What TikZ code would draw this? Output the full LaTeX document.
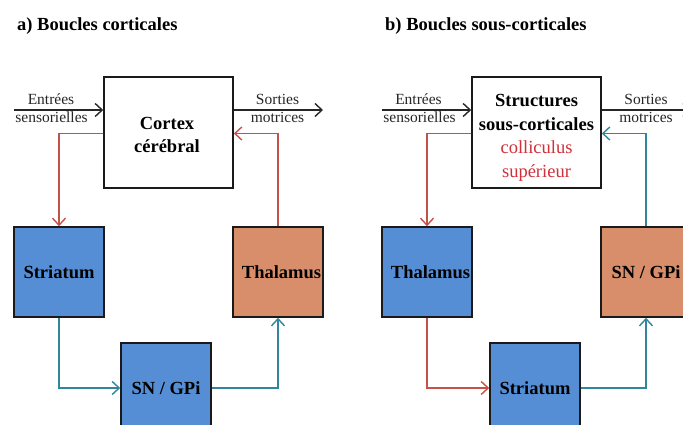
\documentclass[tikz,border=0pt]{standalone}
\usepackage{fontspec}
\setmainfont{Liberation Serif}
\usetikzlibrary{arrows.meta}
\definecolor{boxblue}{RGB}{85,142,213}
\definecolor{boxorange}{RGB}{216,142,106}
\definecolor{linered}{RGB}{196,82,72}
\definecolor{lineteal}{RGB}{49,133,156}
\definecolor{textred}{RGB}{208,48,58}
\definecolor{boxline}{RGB}{26,26,26}
\begin{document}
\begin{tikzpicture}[x=1pt,y=-1pt,
  blk/.style={draw=boxline, line width=1.6pt, inner sep=0pt, align=center,
    font=\bfseries\fontsize{18.5}{22.5}\selectfont},
  small/.style={minimum width=90pt, minimum height=90pt},
  big/.style={minimum width=129pt, minimum height=111pt, fill=white},
  boxtext/.style={inner sep=0pt, align=center, font=\bfseries\fontsize{18.5}{23.5}\selectfont},
  bluebox/.style={blk, small, fill=boxblue},
  orangebox/.style={blk, small, fill=boxorange},
  lbl/.style={inner sep=0pt, anchor=base, font=\fontsize{15.5}{18}\selectfont, text=black!85},
  ttl/.style={inner sep=0pt, anchor=base west, font=\bfseries\fontsize{18.5}{22}\selectfont},
  arr/.style={-{Straight Barb[length=7pt,width=13pt,line width=1.4pt]}},
  blackline/.style={line width=1.5pt, draw=black!85, arr},
  redline/.style={line width=1.5pt, draw=linered, arr},
  tealline/.style={line width=1.5pt, draw=lineteal, arr}
]
\useasboundingbox (0,0) rectangle (683,425);
\clip (0,0) rectangle (683,425);

% ---------- Panel a ----------
\node[ttl] (titleA) at (17,30.5) {a) Boucles corticales};
\node[blk, big] (cortexA) at (168.5,132.5) {};
\node[boxtext] (cortexAtxt) at (167,135) {Cortex\\cérébral};
\node[bluebox] (striA) at (59,272) {Striatum};
\node[orangebox] (thalA) at (278,272) {\hspace*{7pt}Thalamus};
\node[bluebox] (sngA) at (166,388) {SN / GPi};

\coordinate (inA) at (14,110);
\coordinate (outA) at (323,110);
\draw[blackline] (inA) -- (cortexA.west |- inA);
\draw[blackline] (cortexA.east |- outA) -- (outA);
\node[lbl] (entA) at (51,105) {Entrées};
\node[lbl] (senA) at (51.5,122.5) {sensorielles};
\node[lbl] (sorA) at (277.5,105) {Sorties};
\node[lbl] (motA) at (277.5,122.5) {motrices};

\draw[redline] ([yshift=-1pt]cortexA.west) -| (striA.north);
\draw[redline] (thalA.north) |- ([yshift=-1pt]cortexA.east);
\draw[tealline] (striA.south) |- (sngA.west);
\draw[tealline] (sngA.east) -| (thalA.south);

% ---------- Panel b ----------
\node[ttl] (titleB) at (385,30.5) {b) Boucles sous-corticales};
\node[blk, big] (structB) at (536.5,132.5) {};
\node[boxtext] (structBtxt) at (536.5,138) {Structures\\sous-corticales\\
  {\mdseries\color{textred}colliculus}\\{\mdseries\color{textred}supérieur}};
\node[bluebox] (thalB) at (427,272) {\hspace*{7pt}Thalamus};
\node[orangebox] (sngB) at (646,272) {SN / GPi};
\node[bluebox] (striB) at (535,388) {Striatum};

\coordinate (inB) at (382,110);
\coordinate (outB) at (691,110);
\draw[blackline] (inB) -- (structB.west |- inB);
\draw[blackline] (structB.east |- outB) -- (outB);
\node[lbl] (entB) at (418.5,105) {Entrées};
\node[lbl] (senB) at (419.5,122.5) {sensorielles};
\node[lbl] (sorB) at (646,105) {Sorties};
\node[lbl] (motB) at (646,122.5) {motrices};

\draw[redline] ([yshift=-1pt]structB.west) -| (thalB.north);
\draw[tealline] (sngB.north) |- ([yshift=-1pt]structB.east);
\draw[redline] (thalB.south) |- (striB.west);
\draw[tealline] (striB.east) -| (sngB.south);
\end{tikzpicture}
\end{document}
